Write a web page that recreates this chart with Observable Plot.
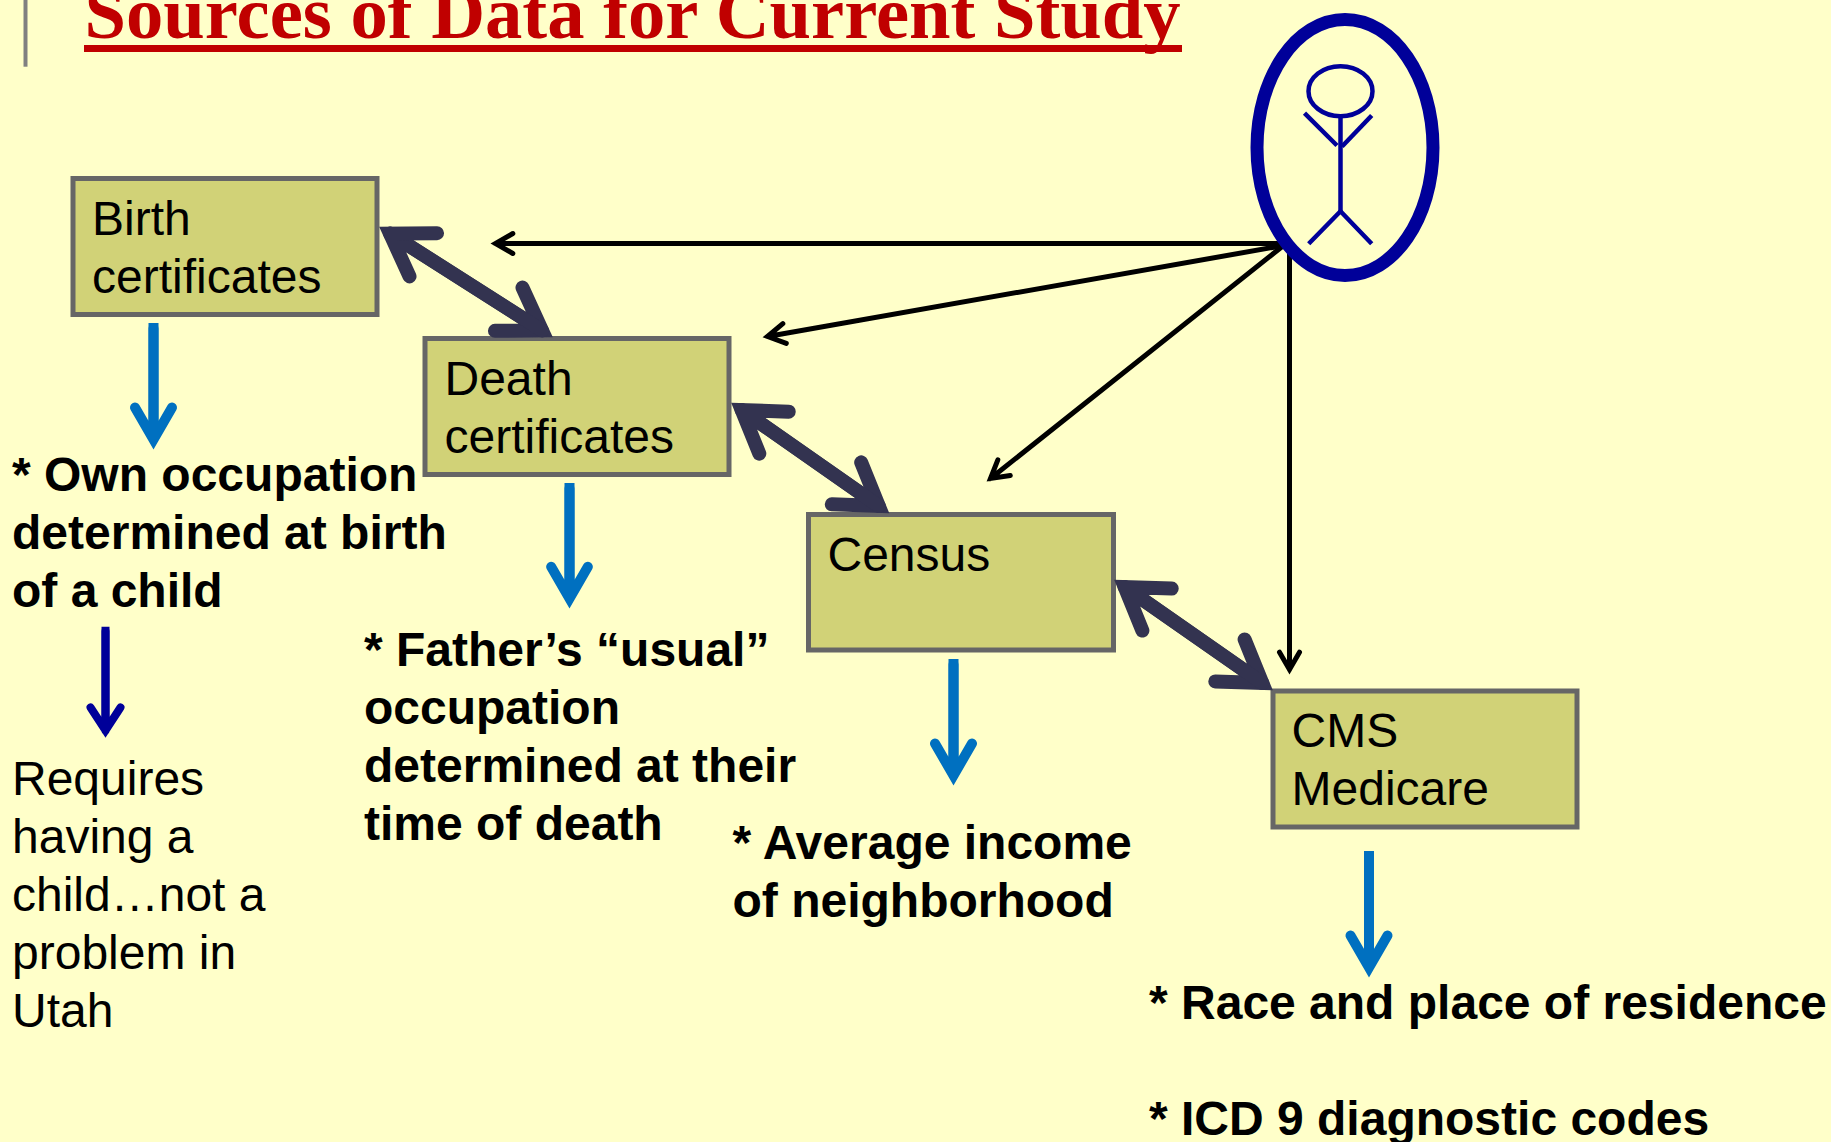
<!DOCTYPE html>
<html><head><meta charset="utf-8">
<style>html,body{margin:0;padding:0;background:#FFFFC9}svg{display:block}</style>
<script src="https://cdn.jsdelivr.net/npm/d3@7"></script>
<script src="https://cdn.jsdelivr.net/npm/@observablehq/plot@0.6"></script>
</head><body><div id="c"></div><script>
const titleText = "Sources of Data for Current Study";
const boxes = [
  {label:"Birth\ncertificates", x1:73, x2:377, y1:178.5, y2:314.5, tx:91.5, ty:292.7},
  {label:"Death\ncertificates", x1:425, x2:729, y1:338.5, y2:474.5, tx:444, ty:452.7},
  {label:"Census", x1:808.5, x2:1113.5, y1:514.5, y2:650, tx:827, ty:570.7},
  {label:"CMS\nMedicare", x1:1273, x2:1577, y1:691, y2:827, tx:1291, ty:804}
];
const boldNotes = [
  {t:"* Own occupation\ndetermined at birth\nof a child", x:11.5, y:606},
  {t:"* Father’s “usual”\noccupation\ndetermined at their\ntime of death", x:363.5, y:839.5},
  {t:"* Average income\nof neighborhood", x:732, y:916.5},
  {t:"* Race and place of residence\n\n* ICD 9 diagnostic codes", x:1148.5, y:1134.5}
];
const plainNotes = [
  {t:"Requires\nhaving a\nchild…not a\nproblem in\nUtah", x:11.5, y:1026}
];
const linkArrows = [
  {x1:389.5,y1:233.1,x2:541.5,y2:329.9},{x1:541.5,y1:329.9,x2:389.5,y2:233.1},
  {x1:741.2,y1:409.5,x2:878.3,y2:505.5},{x1:878.3,y1:505.5,x2:741.2,y2:409.5},
  {x1:1124.2,y1:586.5,x2:1261.8,y2:682.5},{x1:1261.8,y1:682.5,x2:1124.2,y2:586.5}
];
const blueArrows = [
  {x:153,y0:323,y1:328,y2:439},
  {x:569,y0:483,y1:488,y2:598},
  {x:953,y0:659,y1:664,y2:775},
  {x:1368.5,y0:851,y1:856,y2:967}
];
const navyArrows = [{x:105,y0:626.7,y1:630.7,y2:730}];
const blackArrows = [
  {x1:1283,y1:243,x2:495,y2:243},
  {x1:1283,y1:245,x2:767,y2:336},
  {x1:1283,y1:245,x2:990,y2:478},
  {x1:1289,y1:246,x2:1289,y2:669}
];
const figure = [
  {g:"body",x:1340,y:116.7},{g:"body",x:1340,y:210.7},
  {g:"armL",x:1304,y:112.7},{g:"armL",x:1336.5,y:145},
  {g:"armR",x:1371.2,y:115},{g:"armR",x:1341.5,y:146},
  {g:"legs",x:1308.2,y:243.3},{g:"legs",x:1340,y:210.7},{g:"legs",x:1371.2,y:243.3}
];
const ellipseMarks = {halo:{x:1344.5,y:147,rx:88,ry:128,sw:13}, head:{x:1340,y:90.7,rx:32,ry:25,sw:4.5}};
const titleBar = [{x:25,y1:0,y2:66.7}];
const titleRule = [{x1:84,x2:1182,y:48}];

const ellipseSymbol = (rx,ry) => ({draw(ctx){
  const k = 0.5523;
  ctx.moveTo(rx,0);
  ctx.bezierCurveTo(rx,k*ry,k*rx,ry,0,ry);
  ctx.bezierCurveTo(-k*rx,ry,-rx,k*ry,-rx,0);
  ctx.bezierCurveTo(-rx,-k*ry,-k*rx,-ry,0,-ry);
  ctx.bezierCurveTo(k*rx,-ry,rx,-k*ry,rx,0);
  ctx.closePath();
}});
const arrowOpts = (stroke,strokeWidth,headLength,headAngle) => ({
  x1:"x1",y1:"y1",x2:"x2",y2:"y2",stroke,strokeWidth,headLength,headAngle,
  strokeLinejoin:"miter",strokeMiterlimit:10,strokeLinecap:"round"
});
const verticalArrow = (data,stroke,strokeWidth,headLength,headAngle) => [
  Plot.ruleX(data,{x:"x",y1:"y0",y2:"y2",stroke,strokeWidth,strokeLinecap:"butt"}),
  Plot.arrow(data,{...arrowOpts(stroke,strokeWidth,headLength,headAngle),x1:"x",x2:"x"})
];
const sans = "Liberation Sans, Arial, sans-serif";
const textOpts = {fontFamily:sans,fontSize:48,textAnchor:"start",lineAnchor:"bottom",lineHeight:1.208,fill:"#000"};

const chart = Plot.plot({
  width:1831,height:1142,margin:0,
  x:{domain:[0,1831],range:[0,1831],axis:null},
  y:{domain:[0,1142],range:[0,1142],axis:null},
  style:{background:"#FFFFC9",overflow:"hidden"},
  marks:[
    Plot.ruleX(titleBar,{x:"x",y1:"y1",y2:"y2",stroke:"#808080",strokeWidth:4}),
    Plot.text([titleText],{x:84,y:37,text:d=>d,fontFamily:"Liberation Serif, Times New Roman, serif",fontWeight:"bold",fontSize:74.6,fill:"#C00000",textAnchor:"start",lineAnchor:"bottom"}),
    Plot.ruleY(titleRule,{y:"y",x1:"x1",x2:"x2",stroke:"#C00000",strokeWidth:7}),
    Plot.arrow(blackArrows,arrowOpts("#000",5,6,60)),
    Plot.rect(boxes,{x1:"x1",x2:"x2",y1:"y1",y2:"y2",fill:"#D1D277",stroke:"#666666",strokeWidth:5}),
    Plot.text(boxes,{x:"tx",y:"ty",text:"label",...textOpts}),
    Plot.arrow(linkArrows,arrowOpts("#333350",14,5.04,66)),
    verticalArrow(blueArrows,"#0070C0",10,5.85,60),
    verticalArrow(navyArrows,"#000099",8,5.15,66),
    Plot.text(boldNotes,{x:"x",y:"y",text:"t",fontWeight:"bold",...textOpts}),
    Plot.text(plainNotes,{x:"x",y:"y",text:"t",...textOpts}),
    Plot.dot([ellipseMarks.halo],{x:"x",y:"y",r:10,symbol:ellipseSymbol(ellipseMarks.halo.rx,ellipseMarks.halo.ry),fill:"none",stroke:"#000099",strokeWidth:ellipseMarks.halo.sw}),
    Plot.dot([ellipseMarks.head],{x:"x",y:"y",r:10,symbol:ellipseSymbol(ellipseMarks.head.rx,ellipseMarks.head.ry),fill:"none",stroke:"#000099",strokeWidth:ellipseMarks.head.sw}),
    Plot.line(figure,{x:"x",y:"y",z:"g",stroke:"#000099",strokeWidth:4.5,strokeLinecap:"butt",strokeLinejoin:"miter",curve:"linear"})
  ]
});
document.getElementById("c").appendChild(chart);
</script></body></html>
